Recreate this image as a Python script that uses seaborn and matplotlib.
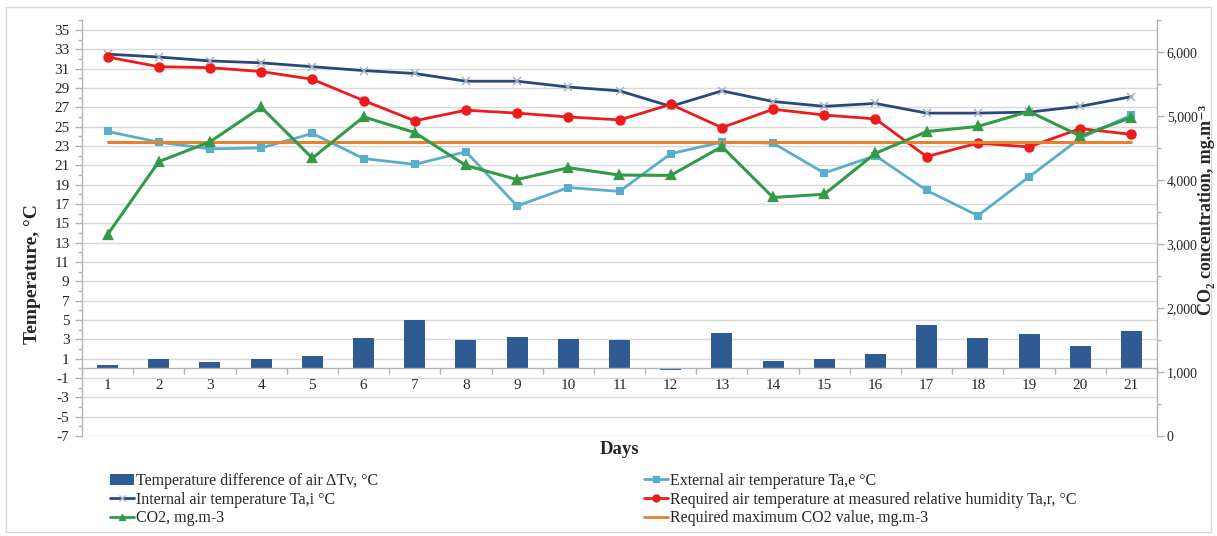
import numpy as np
import pandas as pd
import matplotlib
matplotlib.use("Agg")
import matplotlib.pyplot as plt
import seaborn as sns
from matplotlib.lines import Line2D
from matplotlib.patches import Patch, Rectangle
from matplotlib.ticker import MultipleLocator, FuncFormatter

# ---------------- data ----------------
days = ["1", "2", "3", "4", "5", "6", "7", "8", "9", "10", "11",
        "12", "13", "14", "15", "16", "17", "18", "19", "20", "21"]
delta_t = [0.3, 0.95, 0.65, 0.95, 1.25, 3.15, 4.95, 2.95, 3.2, 3.05, 2.95,
           -0.2, 3.7, 0.75, 0.95, 1.5, 4.45, 3.1, 3.55, 2.3, 3.9]
t_internal = [32.5, 32.2, 31.8, 31.6, 31.2, 30.8, 30.5, 29.7, 29.7, 29.1, 28.7,
              27.1, 28.7, 27.6, 27.1, 27.4, 26.4, 26.4, 26.5, 27.1, 28.1]
t_external = [24.5, 23.4, 22.7, 22.8, 24.3, 21.7, 21.1, 22.4, 16.8, 18.7, 18.3,
              22.2, 23.4, 23.3, 20.2, 22.0, 18.4, 15.8, 19.8, 23.8, 26.2]
t_required = [32.2, 31.2, 31.1, 30.7, 29.9, 27.7, 25.6, 26.7, 26.4, 26.0, 25.7,
              27.3, 24.9, 26.8, 26.2, 25.8, 21.9, 23.3, 22.9, 24.8, 24.2]
co2 = [3150, 4290, 4600, 5140, 4345, 4990, 4745, 4230, 4010, 4195, 4080,
       4075, 4525, 3730, 3780, 4420, 4760, 4840, 5075, 4690, 4980]
co2_required_max = 4590

labels = ["Temperature difference of air \u0394Tv, \u00b0C",
          "Internal air temperature Ta,i \u00b0C",
          "CO2, mg.m-3",
          "External air temperature Ta,e \u00b0C",
          "Required air temperature at measured relative humidity Ta,r, \u00b0C",
          "Required maximum CO2 value, mg.m-3"]

df = pd.DataFrame({"day": days, "dT": delta_t, "Ti": t_internal, "Te": t_external,
                   "Tr": t_required, "co2": co2,
                   "co2max": [co2_required_max] * len(days)})

# ---------------- style ----------------
sns.set_theme(style="white")
plt.rcParams["font.family"] = ["Liberation Serif", "DejaVu Serif"]
plt.rcParams["axes.unicode_minus"] = False

c_bar = "#2f5b94"
c_int = "#29497a"
c_int_m = "#9fb3cf"
c_ext = "#58aecb"
c_req = "#ee1b1b"
c_co2 = "#339a47"
c_orange = "#e8812e"
grid_c = "#d9d9d9"
spine_c = "#b3b3b3"
txt_c = "#262626"

fig = plt.figure(figsize=(12.17, 5.36), dpi=100)
ax = fig.add_axes([82 / 1217, 1 - 436 / 536, (1157 - 82) / 1217, (436 - 20.3) / 536])

sns.barplot(data=df, x="day", y="dT", order=days, ax=ax, color=c_bar,
            saturation=1, width=0.41, edgecolor="none", zorder=2)

line_kw = dict(order=days, ax=ax, errorbar=None, linestyles="-", linewidth=2.0)
sns.pointplot(data=df, x="day", y="Ti", color=c_int, markers="x",
              markersize=6, markeredgecolor=c_int_m, markeredgewidth=1.1,
              zorder=3, **line_kw)
sns.pointplot(data=df, x="day", y="Te", color=c_ext, markers="s",
              markersize=5, zorder=4, **line_kw)
sns.pointplot(data=df, x="day", y="Tr", color=c_req, markers="o",
              markersize=6, zorder=5, **line_kw)

ax2 = ax.twinx()
sns.pointplot(data=df, x="day", y="co2max", order=days, ax=ax2, errorbar=None,
              color=c_orange, markers="", linestyles="-", linewidth=2.2, zorder=3)
sns.pointplot(data=df, x="day", y="co2", order=days, ax=ax2, errorbar=None,
              color=c_co2, markers="^", linestyles="-", linewidth=2.2,
              markersize=6, zorder=4)

# ---------------- axes ----------------
ax.set_xlim(-0.5, len(days) - 0.5)
ax.set_ylim(-7, 36)
ax2.set_ylim(0, 6500)

ax.yaxis.set_major_locator(MultipleLocator(2, offset=1))
ax.yaxis.set_minor_locator(MultipleLocator(1))
ax.grid(axis="y", which="major", color=grid_c, linewidth=1.0, zorder=0)
ax.grid(axis="x", visible=False)
ax.set_axisbelow(True)

ax2.yaxis.set_major_locator(MultipleLocator(1000))
ax2.yaxis.set_minor_locator(MultipleLocator(500))
ax2.yaxis.set_major_formatter(FuncFormatter(lambda v, p: f"{v:,.0f}"))
ax2.grid(False)

for a in (ax, ax2):
    a.spines["top"].set_visible(False)
    for s in a.spines.values():
        s.set_color(spine_c)
        s.set_linewidth(1.0)
ax.spines["right"].set_visible(False)
ax2.spines["left"].set_visible(False)
ax2.spines["bottom"].set_visible(False)
ax.spines["bottom"].set_position(("data", 0))

ax.set_xticks(range(len(days)))
ax.set_xticklabels(days)
ax.set_xticks(np.arange(-0.5, len(days), 1.0), minor=True)
ax.tick_params(axis="x", which="major", length=0, pad=8, labelsize=11, colors=txt_c)
ax.tick_params(axis="x", which="minor", length=4, width=1, color=spine_c, direction="out", bottom=True)
ax.tick_params(axis="y", which="major", length=5, width=1, color=spine_c, direction="out",
               left=True, labelsize=11, labelcolor=txt_c, pad=4)
ax.tick_params(axis="y", which="minor", length=3, width=1, color=spine_c, direction="out", left=True)
ax2.tick_params(axis="y", which="major", length=5, width=1, color=spine_c, direction="out",
                right=True, labelsize=10, labelcolor=txt_c, pad=2)
ax2.tick_params(axis="y", which="minor", length=3, width=1, color=spine_c, direction="out", right=True)
ax2.set_ylabel("")

ax.set_xlabel("Days", fontsize=13.5, fontweight="bold", color=txt_c)
ax.xaxis.set_label_coords(0.5, -0.012)
ax.set_ylabel("Temperature, \u00b0C", fontsize=14, fontweight="bold", color=txt_c)
ax.yaxis.set_label_coords(-0.038, 0.39)
fig.text(1206.5 / 1217, 1 - 210 / 536, "CO\u2082 concentration, mg.m\u207b\u00b3",
         rotation=90, ha="center", va="center", fontsize=13, fontweight="bold",
         color=txt_c)

# ---------------- legends ----------------
h_bar = Patch(facecolor=c_bar, edgecolor="none")
h_int = Line2D([], [], color=c_int, lw=2, marker="x", markersize=5,
               markeredgecolor=c_int_m)
h_co2 = Line2D([], [], color=c_co2, lw=2, marker="^", markersize=5)
h_ext = Line2D([], [], color=c_ext, lw=2, marker="s", markersize=4.5)
h_req = Line2D([], [], color=c_req, lw=2, marker="o", markersize=5)
h_or = Line2D([], [], color=c_orange, lw=2)

leg_kw = dict(loc="upper left", frameon=False, fontsize=11.5, handlelength=1.5,
              handletextpad=0.15, labelspacing=0.17, borderaxespad=0, borderpad=0,
              labelcolor=txt_c)
fig.legend([h_bar, h_int, h_co2], labels[:3],
           bbox_to_anchor=(110 / 1217, 1 - 473 / 536), **leg_kw)
fig.legend([h_ext, h_req, h_or], labels[3:],
           bbox_to_anchor=(644 / 1217, 1 - 473 / 536), **leg_kw)

fig.patches.append(Rectangle((6 / 1217, 4 / 536), 1205 / 1217, 525 / 536,
                             transform=fig.transFigure, fill=False,
                             edgecolor="#d9d9d9", linewidth=1.0))

fig.savefig("out.png", dpi=100)
